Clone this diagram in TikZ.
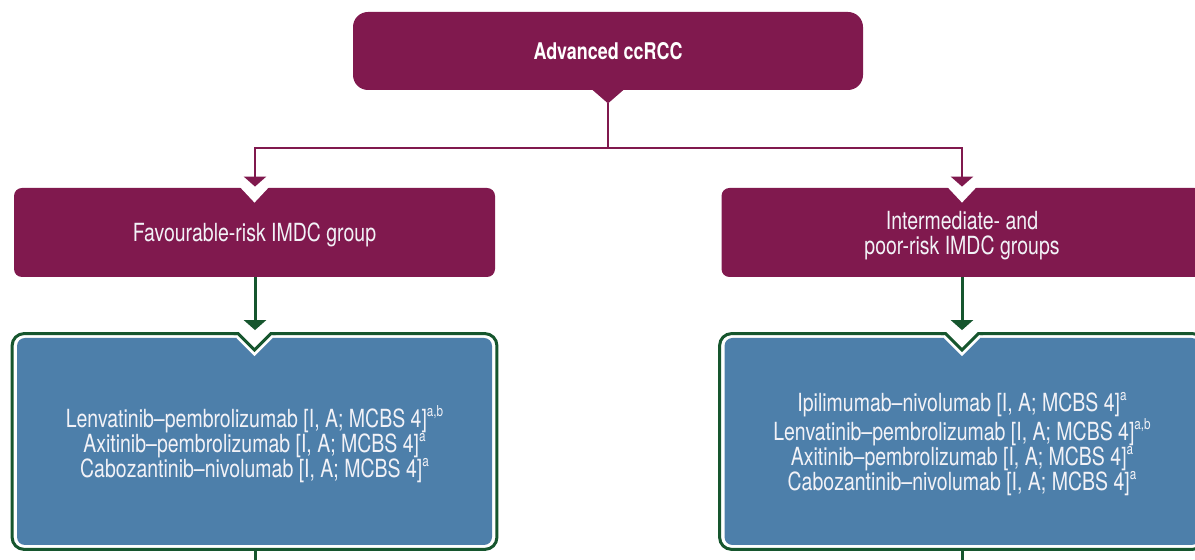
\documentclass[tikz,border=0pt]{standalone}
\usepackage{fontspec}
\setmainfont{TeX Gyre Heros}[FakeStretch=0.78]
\usepackage{tikz}
\usetikzlibrary{arrows.meta}
\pgfdeclarelayer{background}
\pgfsetlayers{background,main}

\definecolor{riskpurple}{RGB}{128,25,78}
\definecolor{treatblue}{RGB}{77,127,170}
\definecolor{treatgreen}{RGB}{22,86,46}
\definecolor{lighttext}{RGB}{242,242,247}

\newcommand{\refmark}[1]{\raisebox{0.42em}{\fontsize{7.5}{7.5}\selectfont #1}}

\begin{document}
\begin{tikzpicture}[x=0.5pt, y=-0.5pt,
		boxtext/.style={text=lighttext, align=center, inner sep=0pt, text depth=0pt, font=\fontsize{12.5}{12.6}\selectfont},
		riskbox/.style={boxtext, fill=riskpurple, rounded corners=4pt, minimum width=240.5pt, minimum height=44.5pt},
		treatbox/.style={boxtext, fill=treatblue, rounded corners=4pt, minimum width=237.5pt, minimum height=103.5pt},
		riskline/.style={draw=riskpurple, line width=1.3pt},
		treatline/.style={draw=treatgreen, line width=1.5pt},
		>={Triangle[width=11pt, length=5pt]}]
			\useasboundingbox (0,0) rectangle (1195,560);
			\clip (0,0) rectangle (1195,560);

			\node[fill=riskpurple, text=white, rounded corners=7.5pt, minimum width=255pt, minimum height=39pt, inner sep=0pt, font=\fontsize{11.5}{12.5}\selectfont\bfseries] (ccrcc) at (608,51) {Advanced ccRCC};
			\fill[riskpurple] ([shift={(-15.5,-0.5)}]ccrcc.south) -- ([shift={(15.5,-0.5)}]ccrcc.south) -- ([shift={(0,13)}]ccrcc.south) coordinate (tabtip) -- cycle;

			\node[riskbox] (fav) at (254.5,232.5) {Favourable-risk IMDC group};
			\node[riskbox] (inter) at (962,232.5) {Intermediate- and\\poor-risk IMDC groups};

			\node[treatbox] (ltreat) at (254.5,441.5) {Lenvatinib--pembrolizumab [I, A; MCBS 4]\refmark{a,b}\\
				Axitinib--pembrolizumab [I, A; MCBS 4]\refmark{a}\\
				Cabozantinib--nivolumab [I, A; MCBS 4]\refmark{a}};
			\node[treatbox] (rtreat) at (962,441.5) {Ipilimumab--nivolumab [I, A; MCBS 4]\refmark{a}\\
				Lenvatinib--pembrolizumab [I, A; MCBS 4]\refmark{a,b}\\
				Axitinib--pembrolizumab [I, A; MCBS 4]\refmark{a}\\
				Cabozantinib--nivolumab [I, A; MCBS 4]\refmark{a}};

			% green frames behind the blue boxes
			\begin{pgfonlayer}{background}
				\foreach \b in {ltreat, rtreat} {
					\draw[treatline, fill=white, rounded corners=6pt] ([shift={(-4.5,-4)}]\b.north west) rectangle ([shift={(4.5,4)}]\b.south east);
				}
			\end{pgfonlayer}

			% notches
			\foreach \b in {fav, inter} {
				\fill[white] ([shift={(-15,-1)}]\b.north) -- ([shift={(15,-1)}]\b.north) -- ([shift={(0,15)}]\b.north) -- cycle;
			}
			\foreach \b in {ltreat, rtreat} {
				\fill[white] ([shift={(-18,-6.5)}]\b.north) -- ([shift={(18,-6.5)}]\b.north) -- ([shift={(18,0.5)}]\b.north)
					-- ([shift={(0,18.5)}]\b.north) -- ([shift={(-18,0.5)}]\b.north) -- cycle;
				\draw[treatline, miter limit=4] ([shift={(-21,-4)}]\b.north) -- ([shift={(-16.5,-4)}]\b.north) -- ([shift={(0,12.5)}]\b.north)
					-- ([shift={(16.5,-4)}]\b.north) -- ([shift={(21,-4)}]\b.north);
			}

			\coordinate (split) at (608,148);
			\draw[riskline] (tabtip) -- (split);
			\draw[riskline, ->] (split) -| ([shift={(0.5,-1)}]fav.north);
			\draw[riskline, ->] (split) -| ([shift={(0,-1)}]inter.north);

			\draw[treatline, ->] ([xshift=0.25pt]fav.south) -- ([shift={(0.5,-7.5)}]ltreat.north);
			\draw[treatline, ->] (inter.south) -- ([shift={(0,-7.5)}]rtreat.north);

			\coordinate (lnext) at (255,565);
			\coordinate (rnext) at (962,565);
			\draw[treatline] ([shift={(0.5,4)}]ltreat.south) -- (lnext);
			\draw[treatline] ([shift={(0,4)}]rtreat.south) -- (rnext);
		\end{tikzpicture}
\end{document}
